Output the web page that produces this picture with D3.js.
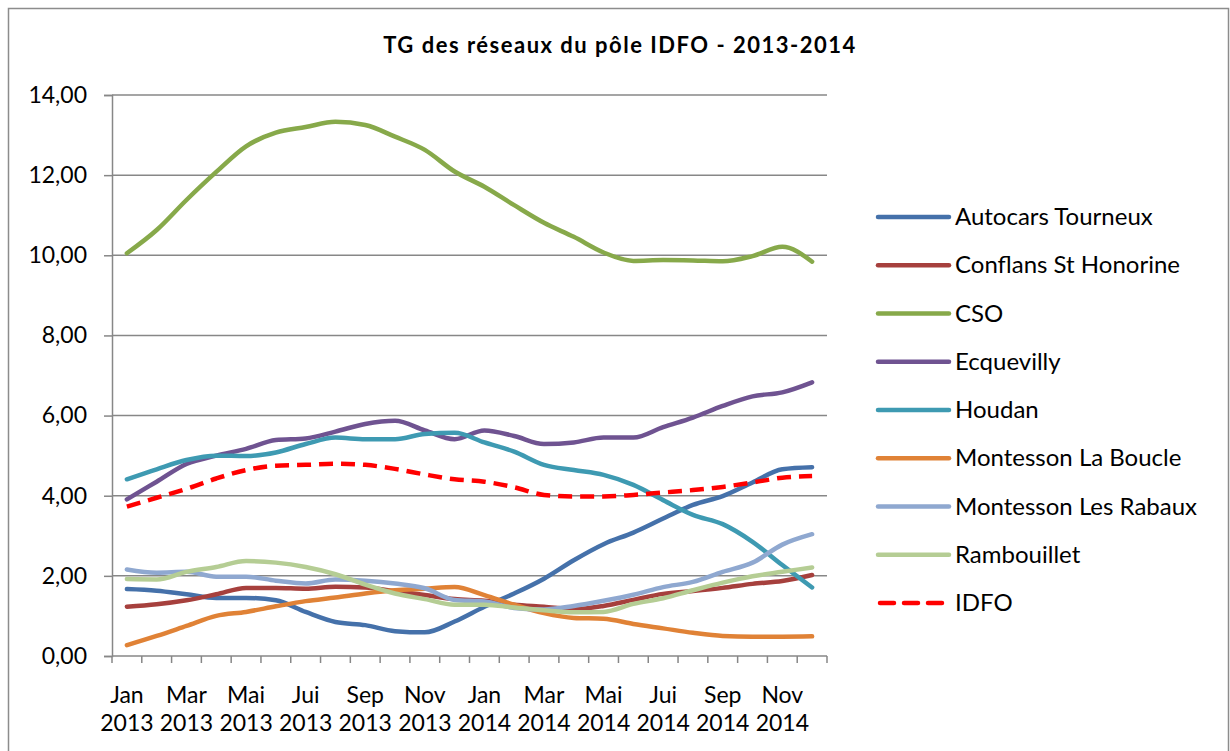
<!DOCTYPE html>
<html><head><meta charset="utf-8">
<script src="https://cdn.jsdelivr.net/npm/d3@7"></script>
<style>body{margin:0;background:#fff;}svg{display:block;font-family:Lato,"Open Sans",sans-serif;}</style>
</head><body><svg id="c" width="1230" height="751"></svg>
<script>
const months = ["Jan 2013","Fév 2013","Mar 2013","Avr 2013","Mai 2013","Juin 2013","Jui 2013","Aoû 2013","Sep 2013","Oct 2013","Nov 2013","Déc 2013",
                "Jan 2014","Fév 2014","Mar 2014","Avr 2014","Mai 2014","Juin 2014","Jui 2014","Aoû 2014","Sep 2014","Oct 2014","Nov 2014","Déc 2014"];
const tickLabels = ["Jan 2013","Mar 2013","Mai 2013","Jui 2013","Sep 2013","Nov 2013","Jan 2014","Mar 2014","Mai 2014","Jui 2014","Sep 2014","Nov 2014"];
const yTicks = [0,2,4,6,8,10,12,14];
const seriesNames = ["Autocars Tourneux","Conflans St Honorine","CSO","Ecquevilly","Houdan","Montesson La Boucle","Montesson Les Rabaux","Rambouillet","IDFO"];
const autocars = [1.67,1.63,1.54,1.45,1.45,1.39,1.10,0.85,0.77,0.62,0.59,0.86,1.23,1.56,1.93,2.39,2.79,3.08,3.43,3.77,3.99,4.33,4.66,4.71];
const conflans = [1.23,1.29,1.39,1.54,1.70,1.70,1.68,1.73,1.71,1.62,1.52,1.42,1.38,1.28,1.23,1.17,1.25,1.40,1.55,1.62,1.70,1.80,1.87,2.02];
const cso = [10.05,10.63,11.38,12.08,12.72,13.06,13.20,13.33,13.25,12.96,12.63,12.09,11.71,11.25,10.81,10.46,10.07,9.86,9.88,9.87,9.85,9.98,10.21,9.84];
const ecquevilly = [3.91,4.35,4.79,5.00,5.17,5.39,5.43,5.60,5.79,5.87,5.63,5.41,5.63,5.49,5.29,5.33,5.45,5.45,5.71,5.95,6.24,6.48,6.58,6.83];
const houdan = [4.41,4.66,4.89,5.00,4.99,5.08,5.29,5.45,5.41,5.41,5.54,5.57,5.33,5.10,4.77,4.64,4.52,4.27,3.89,3.52,3.29,2.85,2.27,1.71];
const laBoucle = [0.27,0.50,0.75,1.00,1.10,1.24,1.37,1.46,1.56,1.64,1.68,1.72,1.52,1.28,1.07,0.95,0.93,0.80,0.69,0.58,0.50,0.48,0.48,0.49];
const rabaux = [2.16,2.08,2.10,1.98,1.98,1.88,1.81,1.91,1.88,1.81,1.69,1.40,1.36,1.20,1.16,1.25,1.38,1.53,1.72,1.85,2.10,2.33,2.78,3.04];
const rambouillet = [1.92,1.91,2.10,2.22,2.37,2.33,2.22,2.04,1.78,1.56,1.42,1.28,1.28,1.21,1.14,1.09,1.10,1.30,1.44,1.64,1.83,1.99,2.10,2.21];
const idfo = [3.73,3.95,4.17,4.43,4.64,4.75,4.77,4.80,4.77,4.67,4.53,4.41,4.35,4.21,4.02,3.98,3.98,4.02,4.08,4.14,4.22,4.33,4.45,4.49];
const seriesValues = [autocars,conflans,cso,ecquevilly,houdan,laBoucle,rabaux,rambouillet,idfo];
const colors = ["#4571AA","#A6403D","#87A94A","#6F5391","#3E9AB2","#E08236","#8FA8D0","#B5CD94","#FF0000"];

const svg = d3.select("#c");
svg.append("rect").attr("x",8.5).attr("y",8.5).attr("width",1220).attr("height",760)
  .attr("fill","#fff").attr("stroke","#8c8c8c").attr("stroke-width",1.5);

const L=112, R=827, T=95, B=656;
const x = d3.scaleBand().domain(months).range([L,R]).padding(0);
const y = d3.scaleLinear().domain([0,14]).range([B,T]);
const fmt = d => d.toFixed(2).replace(".",",");

svg.append("text").attr("x",620).attr("y",53).attr("text-anchor","middle")
  .attr("font-weight","bold").attr("font-size",22).attr("letter-spacing",1.5).attr("fill","#000")
  .text("TG des réseaux du pôle IDFO - 2013-2014");

// gridlines
svg.append("g").selectAll("line").data(yTicks.filter(v=>v>0)).join("line")
  .attr("x1",L).attr("x2",R).attr("y1",d=>y(d)).attr("y2",d=>y(d))
  .attr("stroke","#878787").attr("stroke-width",1.5);

// y axis
const ya = svg.append("g").attr("transform",`translate(${L},0)`)
  .call(d3.axisLeft(y).tickValues(yTicks).tickFormat(fmt).tickSize(8).tickPadding(17));
ya.select(".domain").attr("stroke","#878787").attr("stroke-width",1.5);
ya.selectAll(".tick line").attr("stroke","#878787").attr("stroke-width",1.5);
ya.selectAll(".tick text").attr("font-size",23).attr("fill","#000").attr("font-family","Lato");

// x axis
const xa = svg.append("g").attr("transform",`translate(0,${B})`);
xa.append("line").attr("x1",L).attr("x2",R).attr("y1",0).attr("y2",0).attr("stroke","#878787").attr("stroke-width",1.5);
const bounds = months.map(m=>x(m)).concat([R]);
xa.selectAll("line.t").data(bounds).join("line").attr("class","t")
  .attr("x1",d=>d).attr("x2",d=>d).attr("y1",0).attr("y2",7).attr("stroke","#878787").attr("stroke-width",1.5);
const lab = xa.selectAll("text").data(tickLabels).join("text")
  .attr("text-anchor","middle").attr("font-size",23).attr("fill","#000");
lab.append("tspan").attr("x",d=>x(d)+x.bandwidth()/2).attr("y",47).text(d=>d.split(" ")[0]);
lab.append("tspan").attr("x",d=>x(d)+x.bandwidth()/2).attr("y",75).text(d=>d.split(" ")[1]);

// lines
const line = d3.line().x((d,i)=>x(months[i])+x.bandwidth()/2).y(d=>y(d)).curve(d3.curveMonotoneX);
seriesValues.forEach((vals,k)=>{
  svg.append("path").datum(vals).attr("d",line).attr("fill","none")
    .attr("stroke",colors[k]).attr("stroke-width",4.5)
    .attr("stroke-linejoin","round")
    .attr("stroke-linecap", k===8 ? "butt" : "round")
    .attr("stroke-dasharray", k===8 ? "14,8" : null);
});

// legend
const lg = svg.append("g").selectAll("g").data(seriesNames).join("g")
  .attr("transform",(d,i)=>`translate(878,${217+i*48.25})`);
lg.append("line").attr("x1",(d,i)=>i===8?2:0).attr("x2",(d,i)=>i===8?70:71).attr("y1",0).attr("y2",0)
  .attr("stroke",(d,i)=>colors[i]).attr("stroke-width",4.5)
  .attr("stroke-linecap","round")
  .attr("stroke-dasharray",(d,i)=>i===8?"14,10":null);
lg.append("text").attr("x",77).attr("y",8).attr("font-size",24).attr("fill","#000").text(d=>d);
</script></body></html>
